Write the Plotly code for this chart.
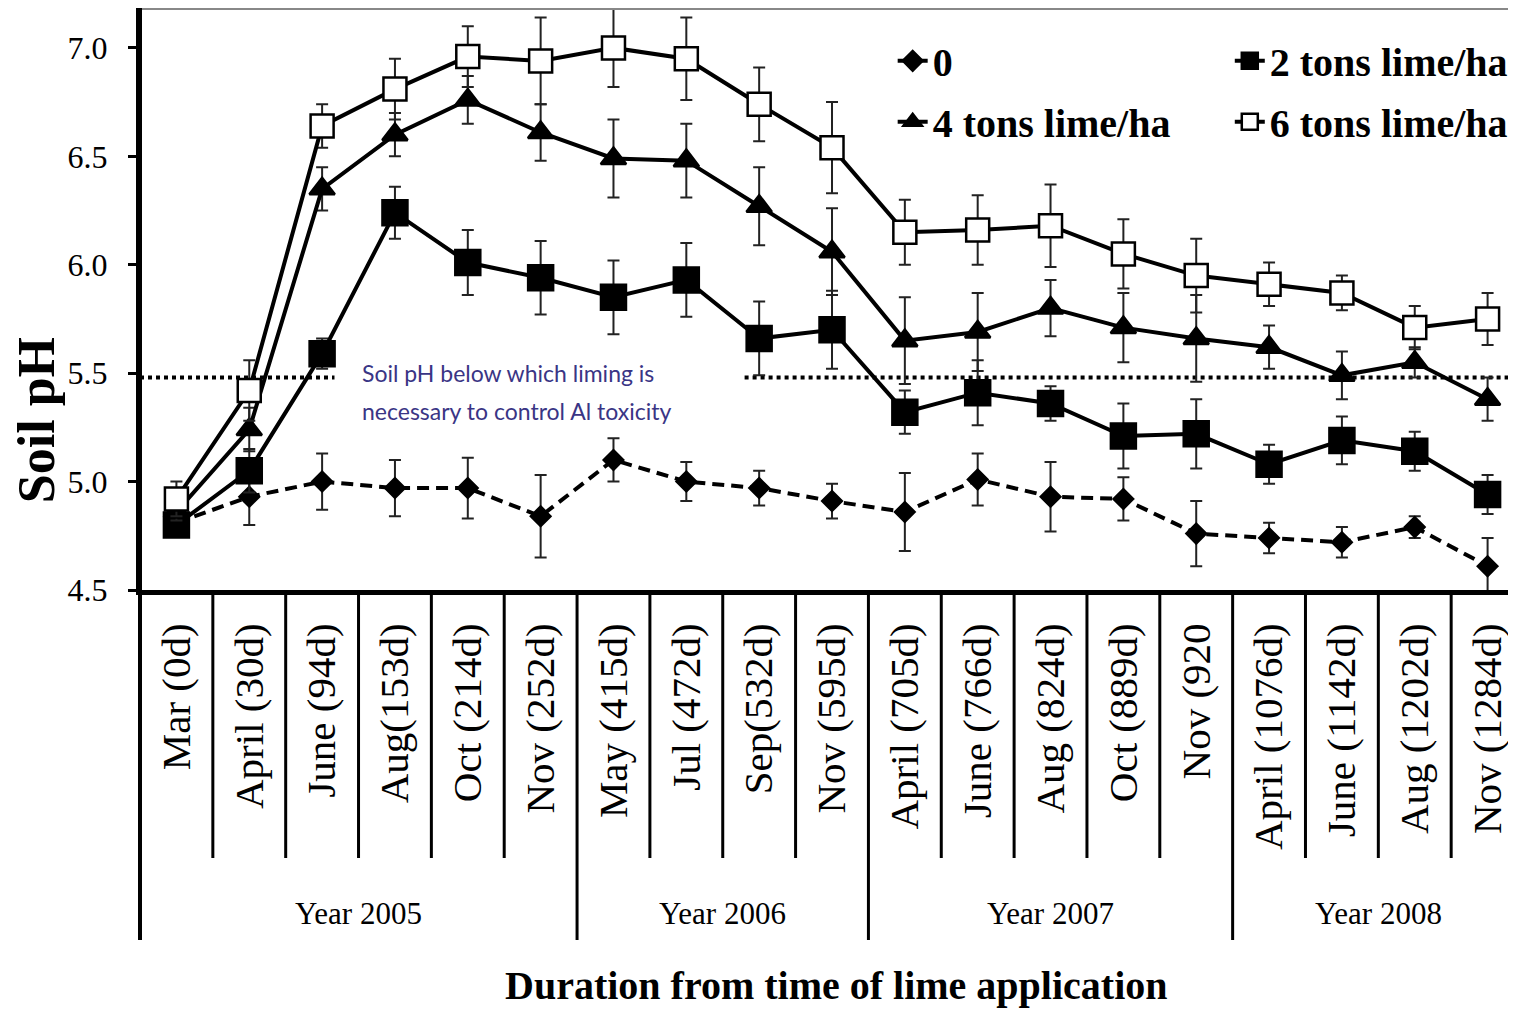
import plotly.graph_objects as go

categories = ["Mar (0d)", "April (30d)", "June (94d)", "Aug(153d)", "Oct (214d)", "Nov (252d)",
              "May (415d)", "Jul (472d)", "Sep(532d)", "Nov (595d)",
              "April (705d)", "June (766d)", "Aug (824d)", "Oct (889d)", "Nov (920",
              "April (1076d)", "June (1142d)", "Aug (1202d)", "Nov (1284d)"]
years = ["Year 2005", "Year 2006", "Year 2007", "Year 2008"]
year_counts = [6, 4, 5, 4]

ph_0 = [4.81, 4.93, 5.00, 4.97, 4.97, 4.84, 5.10, 5.00, 4.97, 4.91, 4.86, 5.01, 4.93, 4.92, 4.76, 4.74, 4.72, 4.79, 4.61]
err_0 = [0.05, 0.13, 0.13, 0.13, 0.14, 0.19, 0.10, 0.09, 0.08, 0.08, 0.18, 0.12, 0.16, 0.10, 0.15, 0.07, 0.07, 0.05, 0.13]
ph_2 = [4.80, 5.05, 5.59, 6.24, 6.01, 5.94, 5.85, 5.93, 5.66, 5.70, 5.32, 5.41, 5.36, 5.21, 5.22, 5.08, 5.19, 5.14, 4.94]
err_2 = [0.03, 0.10, 0.07, 0.12, 0.15, 0.17, 0.17, 0.17, 0.17, 0.18, 0.10, 0.15, 0.08, 0.15, 0.16, 0.09, 0.11, 0.09, 0.09]
ph_4 = [4.86, 5.24, 6.35, 6.60, 6.76, 6.61, 6.49, 6.48, 6.27, 6.06, 5.65, 5.69, 5.80, 5.71, 5.66, 5.62, 5.49, 5.55, 5.38]
err_4 = [0.04, 0.10, 0.10, 0.10, 0.11, 0.13, 0.18, 0.17, 0.18, 0.20, 0.20, 0.18, 0.13, 0.16, 0.20, 0.10, 0.11, 0.07, 0.10]
ph_6 = [4.92, 5.42, 6.64, 6.81, 6.96, 6.94, 7.00, 6.95, 6.74, 6.54, 6.15, 6.16, 6.18, 6.05, 5.95, 5.91, 5.87, 5.71, 5.75]
err_6 = [0.08, 0.14, 0.10, 0.14, 0.14, 0.20, 0.18, 0.19, 0.17, 0.21, 0.15, 0.16, 0.19, 0.16, 0.17, 0.10, 0.08, 0.10, 0.12]
series_names = ["0", "2 tons lime/ha", "4 tons lime/ha", "6 tons lime/ha"]
threshold = 5.48
threshold_note = ["Soil pH below which liming is", "necessary to control Al toxicity"]

SERIF = "Liberation Serif, Times New Roman, serif"
x_idx = list(range(len(categories)))

fig = go.Figure()

def add_series(y, err, name, symbol, size, fill, dash, legend):
    fig.add_trace(go.Scatter(
        x=x_idx, y=y, name="<b>" + name + "</b>", mode="lines+markers",
        line=dict(color="black", width=4, dash=dash),
        marker=dict(symbol=symbol, size=size, color=fill, line=dict(color="black", width=2.5)),
        error_y=dict(type="data", array=err, visible=True, color="#222", thickness=2, width=6),
        legend=legend, legendgroup=name,
    ))

add_series(ph_0, err_0, series_names[0], "diamond", 15, "black", "12px,7px", "legend")
add_series(ph_2, err_2, series_names[1], "square", 25, "black", "solid", "legend2")
add_series(ph_4, err_4, series_names[2], "triangle-up", 22, "black", "solid", "legend")
add_series(ph_6, err_6, series_names[3], "square", 23, "white", "solid", "legend2")

shapes = []
# threshold dotted segments
shapes.append(dict(type="line", xref="x", yref="y", x0=-0.5, x1=2.17, y0=threshold, y1=threshold,
                   line=dict(color="black", width=4, dash="dot"), layer="below"))
shapes.append(dict(type="line", xref="x", yref="y", x0=7.8, x1=len(categories) - 0.5, y0=threshold, y1=threshold,
                   line=dict(color="black", width=4, dash="dot"), layer="below"))
# top border
shapes.append(dict(type="line", xref="paper", yref="paper", x0=0, x1=1, y0=1, y1=1,
                   line=dict(color="#888", width=4)))
# category dividers
boundaries = []
c = 0
for n in year_counts:
    c += n
    boundaries.append(c - 0.5)
for k in range(len(categories)):
    xb = k + 0.5
    long = xb in boundaries
    shapes.append(dict(type="line", xref="x", yref="paper", x0=xb, x1=xb, y0=0,
                       y1=-0.6014 if long else -0.4605,
                       line=dict(color="black", width=3)))
# left border line extends down
shapes.append(dict(type="line", xref="paper", yref="paper", x0=0, x1=0, y0=1, y1=-0.6014,
                   line=dict(color="black", width=4)))

annotations = []
start = -0.5
for name, n in zip(years, year_counts):
    annotations.append(dict(x=start + n / 2, y=-0.555, xref="x", yref="paper", text=name,
                            showarrow=False, font=dict(family=SERIF, size=31, color="black"),
                            xanchor="center", yanchor="middle"))
    start += n
annotations.append(dict(x=0.5065, y=-0.679, xref="paper", yref="paper",
                        text="<b>Duration from time of lime application</b>", showarrow=False,
                        font=dict(family=SERIF, size=40, color="black"), xanchor="center", yanchor="middle"))
annotations.append(dict(x=-0.0755, y=0.292, xref="paper", yref="paper", text="<b>Soil pH</b>",
                        textangle=-90, showarrow=False, font=dict(family=SERIF, size=52, color="black"),
                        xanchor="center", yanchor="middle"))
annotations.append(dict(x=2.52, y=5.50, xref="x", yref="y", text=threshold_note[0], showarrow=False,
                        font=dict(family="Lato, sans-serif", size=23, color="#3a3585"),
                        xanchor="left", yanchor="middle"))
annotations.append(dict(x=2.52, y=5.326, xref="x", yref="y", text=threshold_note[1], showarrow=False,
                        font=dict(family="Lato, sans-serif", size=23, color="#3a3585"),
                        xanchor="left", yanchor="middle"))

legend_common = dict(orientation="v", bgcolor="rgba(0,0,0,0)", borderwidth=0,
                     font=dict(family=SERIF, size=40, color="black"),
                     tracegroupgap=6, xanchor="left", yanchor="top", itemsizing="trace")

fig.update_layout(
    width=1508, height=1011,
    margin=dict(l=132, r=0, t=0, b=429),
    paper_bgcolor="white", plot_bgcolor="white",
    showlegend=True,
    legend=dict(x=0.547, y=0.965, **legend_common),
    legend2=dict(x=0.792, y=0.965, **legend_common),
    shapes=shapes, annotations=annotations,
    xaxis=dict(range=[-0.5, 18.39], tickmode="array", tickvals=x_idx, ticktext=categories,
               tickangle=-90, ticks="", ticklabelstandoff=12, showgrid=False, zeroline=False,
               showline=True, linecolor="black", linewidth=5, automargin=False,
               tickfont=dict(family=SERIF, size=41, color="black")),
    yaxis=dict(range=[4.5, 7.184], tickvals=[4.5, 5.0, 5.5, 6.0, 6.5, 7.0], tickformat=".1f",
               ticks="outside", ticklen=8, tickwidth=3, tickcolor="black", ticklabelstandoff=14,
               showgrid=False, zeroline=False, showline=True, linecolor="black", linewidth=4,
               automargin=False, tickfont=dict(family=SERIF, size=32, color="black")),
)

fig.write_html("out.html")
